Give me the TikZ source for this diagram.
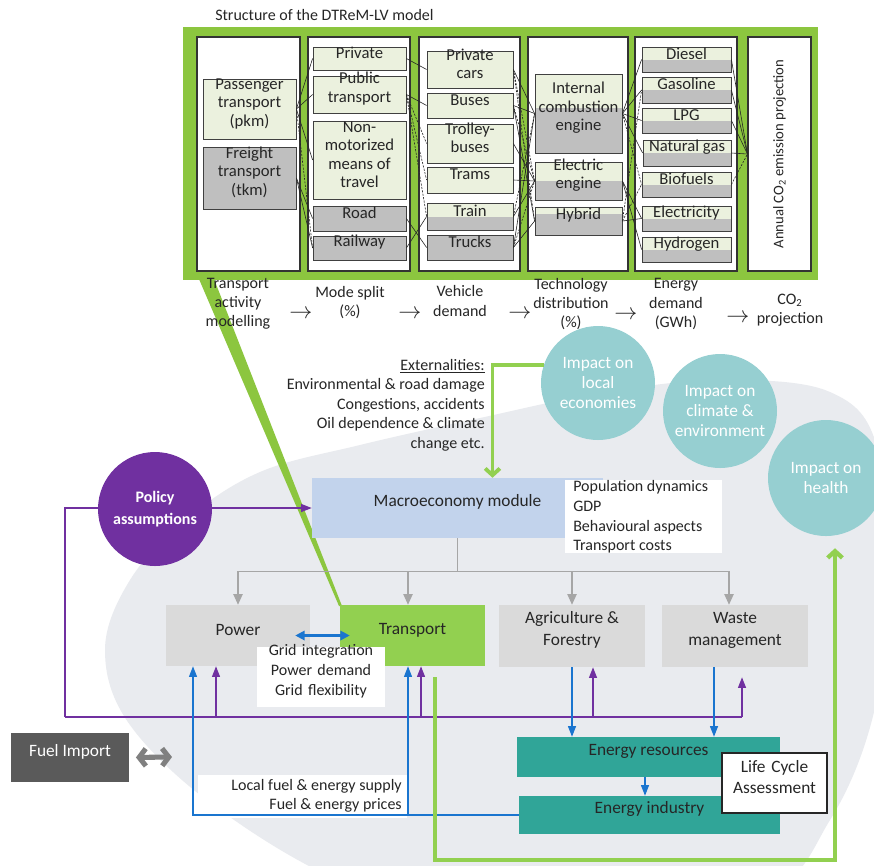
\documentclass[tikz,border=0pt]{standalone}
\usepackage{fontspec}
\setmainfont{Carlito}
\usetikzlibrary{arrows.meta,calc,fit}
\definecolor{frameg}{HTML}{8CC63F}
\definecolor{lgbox}{HTML}{EBF1DE}
\definecolor{gbox}{HTML}{BFBFBF}
\definecolor{purp}{HTML}{7030A0}
\definecolor{blu}{HTML}{1A75CF}
\definecolor{macrob}{HTML}{C2D3EC}
\definecolor{secg}{HTML}{DADADA}
\definecolor{trg}{HTML}{92D050}
\definecolor{impc}{HTML}{96CFD1}
\definecolor{enteal}{HTML}{30A598}
\definecolor{bgc}{HTML}{E9EBEF}
\definecolor{txt}{HTML}{262626}
\definecolor{fuelc}{HTML}{5A5A5A}
\definecolor{arrg}{HTML}{A6A6A6}
\newcommand{\fsz}[2]{\fontsize{#1}{#2}\selectfont}
\tikzset{
  sbox/.style={draw=black!75, line width=0.6pt, inner sep=0pt, align=center, text=txt, font=\fsz{12.5}{13.9}},
  lgf/.style={sbox, fill=lgbox},
  gbf/.style={sbox, fill=gbox},
  tt/.style={sbox, fill=lgbox, path picture={\fill[gbox] ($(path picture bounding box.north west)!#1!(path picture bounding box.south west)$) rectangle (path picture bounding box.south east);}},
  tt/.default=0.5,
  panel/.style={draw=black!80, fill=white, line width=0.8pt, inner sep=0pt},
  lnk/.style={black!85, line width=0.45pt},
  lnkd/.style={lnk, dash pattern=on 1.6pt off 1pt},
  lab/.style={align=center, text=txt, font=\fsz{12}{14.3}, inner sep=0pt},
  arw/.style={text=txt, font=\fsz{16}{18}, inner sep=0pt},
  sec/.style={inner sep=0pt, align=center, text=txt, font=\fsz{13}{16.5}},
  pur/.style={purp, line width=0.9pt},
  purA/.style={pur, -{Triangle[width=6pt,length=8pt]}},
  bl/.style={blu, line width=0.9pt},
  blA/.style={bl, -{Triangle[width=6pt,length=8pt]}},
  gry/.style={arrg, line width=0.9pt},
  gryA/.style={gry, -{Triangle[width=7pt,length=8pt]}},
  grn/.style={trg, line width=2.9pt},
  grnA/.style={grn, -{Straight Barb[length=5pt,width=11pt]}},
  imp/.style={circle, fill=impc, text=white, align=center, font=\fsz{13}{14.8}, inner sep=0pt},
}
\begin{document}
\begin{tikzpicture}[x=0.75pt,y=-0.75pt]
\useasboundingbox (0,0) rectangle (874,865);
\fill[white] (0,0) rectangle (874,865);
\begin{scope}
\clip (0,0) rectangle (874,865);
\fill[bgc] plot[smooth cycle, tension=0.6] coordinates {(105,650) (130,580) (185,520) (260,472) (360,445) (480,418) (600,393) (720,380) (830,392) (878,450) (888,600) (872,720) (830,820) (760,900) (560,950) (360,890) (220,810) (130,725)};
\end{scope}

% ---------- structure of the model ----------
\node[anchor=west, font=\fsz{12}{14}, text=txt, inner sep=0pt] (title) at (215,15) {Structure of the DTReM-LV model};
\node[fit={(183,27) (818,280)}, fill=frameg, inner sep=0pt] (frame) {};
\node[panel, fit={(197,37) (300,271)}] (p1) {};
\node[panel, fit={(308,37) (410,271)}] (p2) {};
\node[panel, fit={(419,37) (520,271)}] (p3) {};
\node[panel, fit={(528,37) (628,271)}] (p4) {};
\node[panel, fit={(635,37) (737,271)}] (p5) {};
\node[panel, fit={(748,37) (811,271)}] (p6) {};
\node[rotate=90, font=\fsz{11}{13}, text=txt, inner sep=0pt] (co2t) at (p6.center) {Annual CO\textsubscript{2} emission projection};

\node[lgf, fit={(203,79) (296,139)}] (pass) {Passenger\\transport\\(pkm)};
\node[gbf, fit={(203,147) (296,209)}] (frt) {Freight\\transport\\(tkm)};

\node[lgf, fit={(313,47) (406,70)}] (priv) {Private};
\node[lgf, fit={(313,76) (406,113)}] (pub) {Public\\transport};
\node[lgf, fit={(313,121) (406,199)}] (nonm) {Non-\\motorized\\means of\\travel};
\node[gbf, fit={(313,206) (406,231)}] (road) {Road};
\node[gbf, fit={(313,236) (406,260)}] (rail) {Railway};

\node[lgf, fit={(427,51) (513,88)}] (pcars) {Private\\cars};
\node[lgf, fit={(427,93) (513,118)}] (bus) {Buses};
\node[lgf, fit={(427,124) (513,163)}] (trol) {Trolley-\\buses};
\node[lgf, fit={(427,167) (513,193)}] (tram) {Trams};
\node[tt, fit={(427,203) (513,230)}] (train) {Train};
\node[gbf, fit={(427,235) (513,260)}] (truck) {Trucks};

\node[tt=0.43, fit={(535,74) (622,153)}] (ice) {Internal\\combustion\\engine};
\node[tt, fit={(535,162) (622,200)}] (elec) {Electric\\engine};
\node[tt=0.25, fit={(535,207) (622,235)}] (hyb) {Hybrid};

\node[tt, fit={(642,47) (731,72)}] (diesel) {Diesel};
\node[tt, fit={(642,77) (731,103)}] (gasol) {Gasoline};
\node[tt, fit={(642,108) (731,133)}] (lpg) {LPG};
\node[tt, fit={(643,140) (731,166)}] (natgas) {Natural gas};
\node[tt, fit={(642,172) (731,197)}] (bio) {Biofuels};
\node[tt, fit={(642,206) (731,231)}] (elcty) {Electricity};
\node[tt, fit={(642,237) (731,262)}] (hydro) {Hydrogen};

\draw[lnk] (pass.east) -- (priv.west);
\draw[lnk] (pass.east) -- (pub.west);
\draw[lnk] (pass.east) -- (nonm.west);
\draw[lnkd] (pass.east) -- (rail.west);
\draw[lnk] (frt.east) -- (road.west);
\draw[lnk] (frt.east) -- (rail.west);

\draw[lnk] (priv.east) -- (pcars.west);
\draw[lnk] (pub.east) -- (bus.west);
\draw[lnkd] (pub.east) -- (trol.west);
\draw[lnkd] (pub.east) -- (tram.west);
\draw[lnkd] (pub.east) -- (train.west);
\draw[lnk] (road.east) -- (truck.west);
\draw[lnk] (rail.east) -- (train.west);

\draw[lnk] (pcars.east) -- (ice.west);
\draw[lnkd] (pcars.east) -- (elec.west);
\draw[lnkd] (pcars.east) -- (hyb.west);
\draw[lnk] (bus.east) -- (ice.west);
\draw[lnkd] (bus.east) -- (elec.west);
\draw[lnk] (bus.east) -- (hyb.west);
\draw[lnk] (trol.east) -- (elec.west);
\draw[lnk] (tram.east) -- (elec.west);
\draw[lnkd] (train.east) -- (ice.west);
\draw[lnk] (train.east) -- (elec.west);
\draw[lnk] (truck.east) -- (ice.west);
\draw[lnkd] (truck.east) -- (elec.west);
\draw[lnk] (truck.east) -- (hyb.west);

\draw[lnk] (ice.east) -- (diesel.west);
\draw[lnk] (ice.east) -- (gasol.west);
\draw[lnk] (ice.east) -- (lpg.west);
\draw[lnk] (ice.east) -- (natgas.west);
\draw[lnkd] (ice.east) -- (bio.west);
\draw[lnk] (elec.east) -- (elcty.west);
\draw[lnk] (elec.east) -- (hydro.west);
\draw[lnk] (hyb.east) -- (elcty.west);
\draw[lnkd] (hyb.east) -- (bio.west);
\draw[lnkd] (hyb.east) -- (gasol.west);

\draw[lnk] (diesel.east) -- (p6.west);
\draw[lnk] (gasol.east) -- (p6.west);
\draw[lnk] (lpg.east) -- (p6.west);
\draw[lnk] (natgas.east) -- (p6.west);
\draw[lnkd] (bio.east) -- (p6.west);

% green wedge (zoom callout)
\fill[frameg] (199,279) -- (214,279) -- (342,606) -- (339,606) -- cycle;

% ---------- step labels ----------
\node[lab] (l1) at (238,304) {Transport\\activity\\modelling};
\node[arw] (a1) at (301,314) {$\rightarrow$};
\node[lab] (l2) at (350,303) {Mode split\\(\%)};
\node[arw] (a2) at (410,314) {$\rightarrow$};
\node[lab] (l3) at (460,301) {Vehicle\\demand};
\node[arw] (a3) at (520,314) {$\rightarrow$};
\node[lab] (l4) at (571,304) {Technology\\distribution\\(\%)};
\node[arw] (a4) at (626,315) {$\rightarrow$};
\node[lab] (l5) at (676,304) {Energy\\demand\\(GWh)};
\node[arw] (a5) at (738,318) {$\rightarrow$};
\node[lab] (l6) at (790,310) {CO\textsubscript{2}\\projection};

% ---------- impact circles ----------
\node[imp, minimum size=85.5pt] (impL) at (598,383) {Impact on\\local\\economies};
\node[imp, minimum size=85.5pt] (impC) at (720,411) {Impact on\\climate \&\\environment};
\node[imp, minimum size=87pt] (impH) at (826,478) {Impact on\\health};

% externalities
\node[anchor=east, align=right, text=txt, font=\fsz{12}{14.6}, inner sep=0pt] (ext) at (485,405)
  {\underline{Externalities:}\\Environmental \& road damage\\Congestions, accidents\\Oil dependence \& climate\\change etc.};

% ---------- macro ----------
\node[fit={(312,478) (603,538)}, fill=macrob, inner sep=0pt, font=\fsz{13}{15}, text=txt] (macro) {Macroeconomy module};
\node[fit={(565,480) (722,553)}, fill=white, inner sep=0pt] (popbox) {};
\node[anchor=west, align=left, inner sep=0pt, font=\fsz{12}{14.8}, text=txt] (pop) at (573,517) {Population dynamics\\GDP\\Behavioural aspects\\Transport costs};

\coordinate (mG) at ($(macro.north)+(35,0)$);
\draw[grnA] (impL.162) -| (mG);

% policy
\coordinate (pbL) at (65,717);
\draw[purA] (pbL) |- (macro.west);
\node[circle, fill=purp, minimum size=85.5pt, text=white, font=\bfseries\fsz{12}{16}, align=center, inner sep=0pt] (policy) at (155,509) {Policy\\assumptions};

% ---------- sectors ----------
\node[sec, fit={(166,605) (310,666)}, fill=secg] (power) {Power};
\node[sec, fit={(340,605) (485,666)}, fill=trg] (transport) {Transport};
\node[sec, fit={(499,605) (645,667)}, fill=secg] (agri) {Agriculture \&\\Forestry};
\node[sec, fit={(662,605) (808,667)}, fill=secg] (waste) {Waste\\management};

\coordinate (gb) at ($(macro.south)+(0,33)$);
\coordinate (pG) at (power.north);
\coordinate (tG) at ($(transport.north)+(-4.5,0)$);
\coordinate (aG) at (agri.north);
\coordinate (wG) at ($(waste.north)+(-6,0)$);
\draw[gry] (macro.south) -- (gb);
\draw[gry] (pG |- gb) -- (wG |- gb);
\draw[gryA] (pG |- gb) -- (pG);
\draw[gryA] (tG |- gb) -- (tG);
\draw[gryA] (aG |- gb) -- (aG);
\draw[gryA] (wG |- gb) -- (wG);

\node[fit={(257,647) (385,707)}, fill=white, inner sep=0pt, font=\fsz{12}{15}, align=center, text=txt] (grid) {Grid integration\\Power demand\\Grid flexibility};
\draw[blu, line width=1.6pt, {Triangle[width=7pt,length=7pt]}-{Triangle[width=7pt,length=7pt]}] ($(power.east)+(-15,0)$) -- ($(transport.west)+(10,0)$);

% ---------- lower part ----------
\node[fit={(198,775) (407,818)}, fill=white, inner sep=0pt] (lfbox) {};
\node[anchor=east, align=right, inner sep=0pt, font=\fsz{12}{13.8}, text=txt] (lf) at (402,796) {Local fuel \& energy supply\\Fuel \& energy prices};

\node[fit={(517,737) (780,777)}, fill=enteal, inner sep=0pt, font=\fsz{13}{15}, text=txt] (eres) {Energy resources};
\node[fit={(519,796) (780,834)}, fill=enteal, inner sep=0pt, font=\fsz{13}{15}, text=txt] (eind) {Energy industry};
\node[fit={(722,753) (827,813)}, fill=white, draw=black!85, line width=0.8pt, inner sep=0pt, align=center, font=\fsz{13}{16}, text=txt] (lca) {Life Cycle\\Assessment};

% purple feedback
\coordinate (pP) at ($(power.south)+(-22,0)$);
\coordinate (tP) at ($(transport.south)+(8.5,0)$);
\coordinate (aP) at ($(agri.south)+(21,0)$);
\coordinate (wP) at ($(waste.south)+(7,10)$);
\draw[pur] (pbL) -- (pbL -| wP);
\draw[purA] (pP |- pbL) -- (pP);
\draw[purA] (tP |- pbL) -- (tP);
\draw[purA] (aP |- pbL) -- (aP);
\draw[purA] (wP |- pbL) -- (wP);

% blue flows
\coordinate (pB) at ($(power.south)+(-45,0)$);
\coordinate (tB) at ($(transport.south)+(-4.5,0)$);
\coordinate (wB) at ($(waste.south)+(-21,0)$);
\coordinate (eB) at ($(eres.south)+(-3.5,0)$);
\draw[blA] (eind.west) -| (pB);
\draw[blA] (tB |- eind.west) -- (tB);
\draw[blA] (agri.south) -- (agri.south |- eres.north);
\draw[blA] (wB) -- (wB |- eres.north);
\draw[blA] (eB) -- (eB |- eind.north);

% fuel import
\node[fit={(11,733) (129,782)}, fill=fuelc, inner sep=0pt, text=white, font=\fsz{13}{15}] (fuel) {Fuel Import};
\coordinate (fuelR) at (172,757);
\draw[black!50, line width=3.8pt, {Straight Barb[length=5pt,width=13pt]}-{Straight Barb[length=5pt,width=13pt]}, shorten <=5pt] (fuel.east) -- (fuelR);

% green loop to health
\coordinate (tGr) at ($(transport.south)+(22.5,11)$);
\coordinate (gBot) at (0,860);
\coordinate (hG) at ($(impH.south)+(9,12)$);
\draw[grnA, line width=3.2pt] (tGr) -- (tGr |- gBot) -| (hG);
\end{tikzpicture}
\end{document}
